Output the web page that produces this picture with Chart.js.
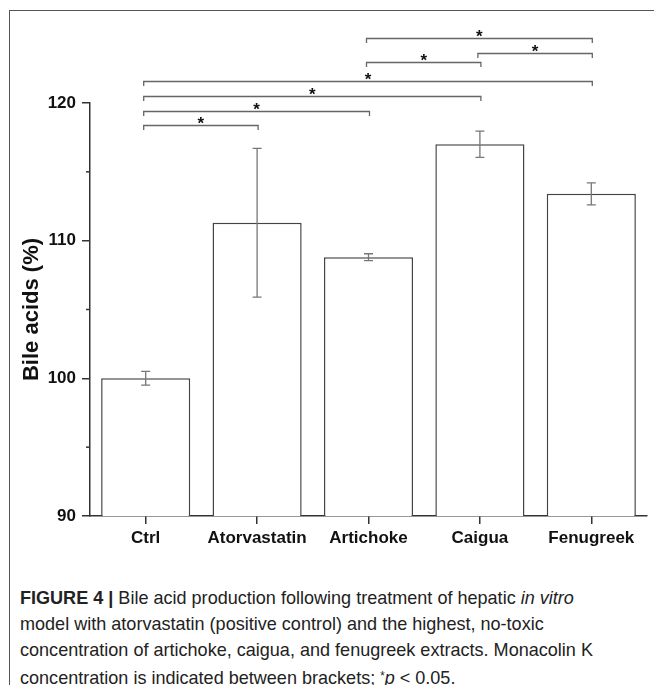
<!DOCTYPE html>
<html>
<head>
<meta charset="utf-8">
<script src="https://cdn.jsdelivr.net/npm/chart.js@4.4.1/dist/chart.umd.min.js"></script>
<style>
  html, body { margin: 0; padding: 0; background: #fff; }
  #wrap { position: relative; width: 654px; height: 685px; overflow: hidden; }
  #frame { position: absolute; left: 9px; top: 10px; width: 700px; height: 700px;
           border-left: 1px solid #555; border-top: 1px solid #555; }
  #cv { position: absolute; left: 0; top: 0; }
  #caption { position: absolute; left: 20px; top: 585px; width: 680px;
             font-family: "Liberation Sans", Arial, sans-serif;
             font-size: 19px; line-height: 26px; color: #222; white-space: nowrap;
             transform: scaleX(0.95); transform-origin: 0 0; }
  #caption b { font-weight: bold; }
</style>
</head>
<body>
<div id="wrap">
  <div id="frame"></div>
  <canvas id="cv" width="654" height="570"></canvas>
  <div id="caption">
    <b>FIGURE 4 |</b> Bile acid production following treatment of hepatic <i>in vitro</i><br>
    model with atorvastatin (positive control) and the highest, no-toxic<br>
    concentration of artichoke, caigua, and fenugreek extracts. Monacolin K<br>
    concentration is indicated between brackets; <sup style="font-size:12px;vertical-align:4px">*</sup><i>p</i> &lt; 0.05.
  </div>
</div>
<script>
const categories = ['Ctrl', 'Atorvastatin', 'Artichoke', 'Caigua', 'Fenugreek'];
const values = [100.0, 111.3, 108.8, 117.0, 113.4];
const errors = [0.5, 5.4, 0.25, 0.95, 0.8];
const yMajorTicks = [90, 100, 110, 120];
const yMinorTicks = [95, 105, 115];
const bracketPairs = [[0, 1], [0, 2], [0, 3], [0, 4], [2, 3], [3, 4], [2, 4]];
const bracketLevels = [118.4, 119.45, 120.5, 121.6, 122.95, 123.6, 124.75];
const bracketLabels = ['*', '*', '*', '*', '*', '*', '*'];
const yTitle = 'Bile acids (%)';

const errorBarPlugin = {
  id: 'errorBars',
  afterDatasetsDraw(chart) {
    const ctx = chart.ctx, x = chart.scales.x, y = chart.scales.y;
    ctx.save();
    ctx.strokeStyle = '#777';
    ctx.lineWidth = 1.3;
    values.forEach((v, i) => {
      const px = x.getPixelForValue(i);
      const t = y.getPixelForValue(v + errors[i]);
      const b = y.getPixelForValue(v - errors[i]);
      ctx.beginPath();
      ctx.moveTo(px, t); ctx.lineTo(px, b);
      ctx.moveTo(px - 4.5, t); ctx.lineTo(px + 4.5, t);
      ctx.moveTo(px - 4.5, b); ctx.lineTo(px + 4.5, b);
      ctx.stroke();
    });
    ctx.restore();
  }
};

const extrasPlugin = {
  id: 'extras',
  afterDraw(chart) {
    const ctx = chart.ctx, x = chart.scales.x, y = chart.scales.y;
    const area = chart.chartArea;
    ctx.save();
    // minor ticks
    ctx.strokeStyle = '#333';
    ctx.lineWidth = 1.5;
    yMinorTicks.forEach(v => {
      const py = y.getPixelForValue(v);
      ctx.beginPath();
      ctx.moveTo(area.left - 4, py); ctx.lineTo(area.left, py);
      ctx.stroke();
    });
    // brackets
    ctx.strokeStyle = '#666';
    ctx.lineWidth = 1.3;
    ctx.fillStyle = '#111';
    ctx.font = 'bold 17px "Liberation Sans", Arial, sans-serif';
    ctx.textAlign = 'center';
    ctx.textBaseline = 'alphabetic';
    bracketPairs.forEach((p, k) => {
      const x1 = x.getPixelForValue(p[0]) - 2;
      const x2 = x.getPixelForValue(p[1]) + 1;
      const py = Math.round(y.getPixelForValue(bracketLevels[k])) + 0.5;
      ctx.beginPath();
      ctx.moveTo(x1, py + 4.5); ctx.lineTo(x1, py); ctx.lineTo(x2, py); ctx.lineTo(x2, py + 4.5);
      ctx.stroke();
      ctx.fillText(bracketLabels[k], (x1 + x2) / 2, py + 3.5);
    });
    // y title
    ctx.fillStyle = '#111';
    ctx.font = 'bold 22px "Liberation Sans", Arial, sans-serif';
    ctx.textBaseline = 'middle';
    ctx.translate(32, (area.top + area.bottom) / 2);
    ctx.rotate(-Math.PI / 2);
    ctx.fillText(yTitle, 0, 0);
    ctx.restore();
  }
};

new Chart(document.getElementById('cv'), {
  type: 'bar',
  data: {
    labels: categories,
    datasets: [{
      data: values,
      backgroundColor: '#fff',
      borderColor: '#444',
      borderWidth: 1.5,
      barPercentage: 0.8,
      categoryPercentage: 1.0
    }]
  },
  options: {
    responsive: false,
    animation: false,
    devicePixelRatio: 1,
    layout: { padding: { top: 103, right: 7, left: 0, bottom: 0 } },
    plugins: { legend: { display: false }, tooltip: { enabled: false } },
    scales: {
      x: {
        offset: true,
        grid: { offset: false, drawOnChartArea: false, drawTicks: true, tickLength: 8, color: '#333', lineWidth: 1.5 },
        border: { display: true, color: '#333', width: 1.5 },
        ticks: { color: '#111', padding: 4, font: { family: '"Liberation Sans", Arial, sans-serif', size: 17, weight: 'bold' } },
        afterFit(s) { s.height = 54; }
      },
      y: {
        min: 90, max: 120,
        afterBuildTicks(s) { s.ticks = yMajorTicks.map(v => ({ value: v })); },
        grid: { drawOnChartArea: false, drawTicks: true, tickLength: 8, color: '#333', lineWidth: 1.5 },
        border: { display: true, color: '#333', width: 1.5 },
        ticks: { color: '#111', padding: 6, font: { family: '"Liberation Sans", Arial, sans-serif', size: 17, weight: 'bold' } },
        afterFit(s) { s.width = 90; }
      }
    }
  },
  plugins: [errorBarPlugin, extrasPlugin]
});
</script>
</body>
</html>
